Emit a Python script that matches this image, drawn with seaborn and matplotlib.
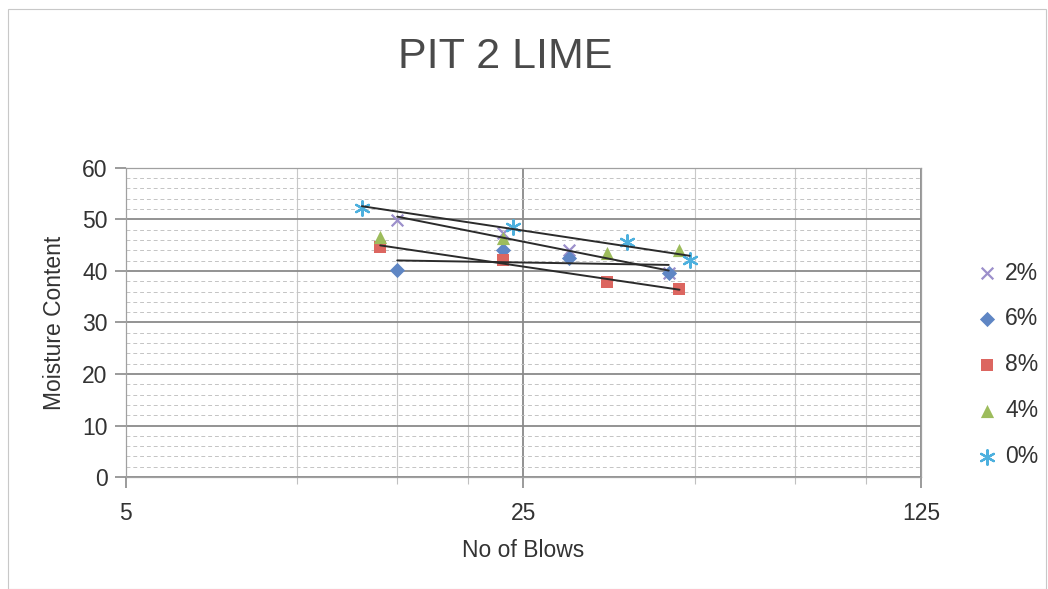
import matplotlib
matplotlib.use("Agg")
import matplotlib.pyplot as plt
import matplotlib.ticker as mticker
from matplotlib.patches import Rectangle
import seaborn as sns
import numpy as np
import pandas as pd

title = "PIT 2 LIME"
x_label = "No of Blows"
y_label = "Moisture Content"
series_names = ["2%", "6%", "8%", "4%", "0%"]
blows_2 = [15, 23, 30, 45]
mc_2 = [49.9, 47.4, 44.1, 39.6]
blows_6 = [15, 23, 30, 45]
mc_6 = [40.2, 44.1, 42.5, 39.6]
blows_8 = [14, 23, 35, 47]
mc_8 = [44.7, 42.1, 37.9, 36.5]
blows_4 = [14, 23, 35, 47]
mc_4 = [46.6, 46.4, 43.5, 44.1]
blows_0 = [13, 24, 38, 49]
mc_0 = [52.2, 48.5, 45.6, 42.1]
x_major_ticks = [5, 25, 125]
x_minor_ticks = [10, 15, 20, 50, 75, 100]
y_ticks = [0, 10, 20, 30, 40, 50, 60]
trend_series = ["2%", "6%", "8%", "0%"]

data = {
    "2%": (blows_2, mc_2),
    "6%": (blows_6, mc_6),
    "8%": (blows_8, mc_8),
    "4%": (blows_4, mc_4),
    "0%": (blows_0, mc_0),
}
styles = {
    "2%": dict(marker="x", color="#9C8FCB", s=70, linewidth=1.6),
    "6%": dict(marker="D", color="#5F86C4", s=60, linewidth=0),
    "8%": dict(marker="s", color="#DC6660", s=80, linewidth=0),
    "4%": dict(marker="^", color="#9DBC5C", s=90, linewidth=0),
    "0%": dict(marker=(6, 2, 0), color="#4DB0DE", s=110, linewidth=1.6),
}

sns.set_theme(style="white")
plt.rcParams["font.family"] = ["Liberation Sans", "DejaVu Sans"]

fig = plt.figure(figsize=(10.48, 5.89), dpi=100)
fig.patches.append(Rectangle((0.008, 0.0), 0.99, 0.985, transform=fig.transFigure,
                             fill=False, edgecolor="#C8C8C8", linewidth=0.8))
ax = fig.add_axes([0.120, 0.190, 0.759, 0.525])
ax.set_xscale("log", base=5)

for name in series_names:
    bx, my = data[name]
    df = pd.DataFrame({"blows": bx, "mc": my})
    st = styles[name]
    sns.scatterplot(data=df, x="blows", y="mc", ax=ax, marker=st["marker"],
                    color=st["color"], s=st["s"], linewidth=st["linewidth"],
                    edgecolor=st["color"] if st["linewidth"] == 0 else None,
                    label=name, zorder=3)

for name in trend_series:
    bx, my = data[name]
    df = pd.DataFrame({"blows": bx, "mc": my})
    sns.regplot(data=df, x="blows", y="mc", ax=ax, logx=True, ci=None,
                scatter=False, truncate=True,
                line_kws=dict(color="#2B2B2B", linewidth=1.4, zorder=4))

ax.set_xlim(5, 125)
ax.set_ylim(0, 60)
ax.xaxis.set_major_locator(mticker.FixedLocator(x_major_ticks))
ax.xaxis.set_major_formatter(mticker.FixedFormatter([str(v) for v in x_major_ticks]))
ax.xaxis.set_minor_locator(mticker.FixedLocator(x_minor_ticks))
ax.xaxis.set_minor_formatter(mticker.NullFormatter())
ax.yaxis.set_major_locator(mticker.FixedLocator(y_ticks))
ax.yaxis.set_minor_locator(mticker.MultipleLocator(2))

ax.grid(True, which="major", axis="both", color="#8A8A8A", linewidth=1.3)
ax.grid(True, which="minor", axis="x", color="#C8C8C8", linewidth=0.8)
ax.grid(True, which="minor", axis="y", color="#C4C4C4", linewidth=0.7,
        linestyle=(0, (4, 3)))
ax.set_axisbelow(True)

ax.tick_params(axis="both", which="major", direction="out", length=8, width=1.2,
               color="#8A8A8A", labelsize=16.5, labelcolor="#333333",
               bottom=True, left=True)
ax.tick_params(axis="x", which="major", pad=10)
ax.tick_params(axis="y", which="major", pad=5)
ax.tick_params(axis="x", which="minor", direction="out", length=5, width=0.8,
               color="#C0C0C0", bottom=True)
for side, sp in ax.spines.items():
    sp.set_color("#A0A0A0")
    sp.set_linewidth(0.9)

ax.set_xlabel(x_label, fontsize=16.5, color="#333333", labelpad=10)
ax.set_ylabel(y_label, fontsize=16.5, color="#333333", labelpad=12)

fig.text(0.482, 0.903, title, ha="center", va="center", fontsize=31,
         color="#4A4A4A", family=["Liberation Sans Narrow", "Liberation Sans", "DejaVu Sans"])

leg = ax.legend(loc="center left", bbox_to_anchor=(1.068, 0.363), frameon=False,
                fontsize=16.5, labelspacing=1.0, handletextpad=0.3,
                handlelength=1.0, borderaxespad=0, borderpad=0,
                markerscale=1.0, labelcolor="#333333")

fig.savefig("out.png", dpi=100)
